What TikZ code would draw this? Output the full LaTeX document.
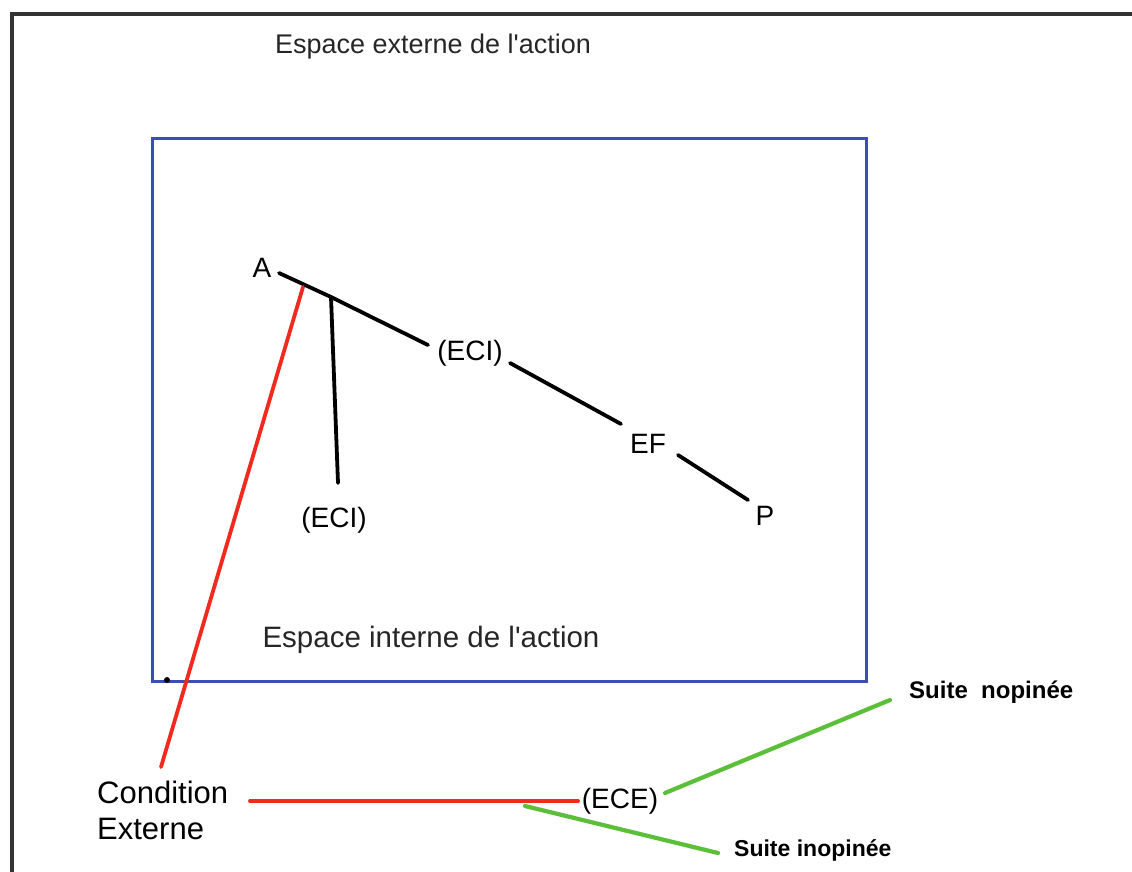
\documentclass[tikz,border=0pt]{standalone}
\usepackage{fontspec}
\setmainfont{Liberation Sans}
\definecolor{boxblue}{HTML}{3A4FB0}
\definecolor{linered}{HTML}{F02A1E}
\definecolor{linegreen}{HTML}{5CBF3A}
\begin{document}
\begin{tikzpicture}[x=1pt,y=-1pt,
  lbl/.style={font=\fontsize{28}{36}\selectfont, inner sep=1pt},
  title/.style={font=\fontsize{27}{30}\selectfont, inner sep=1pt, text=black!85},
  suite/.style={font=\bfseries\fontsize{23}{28}\selectfont, inner sep=1pt},
  blk/.style={line width=3.8pt, black, line cap=round},
  redl/.style={line width=3.8pt, linered, line cap=round},
  greenl/.style={line width=4.2pt, linegreen, line cap=round}]
\useasboundingbox (0,0) rectangle (1132,872);
% outer frame
\draw[line width=3.5pt, black!80] (12,872) -- (12,14) -- (1132,14);
% inner box
\draw[line width=3pt, boxblue] (152,139) rectangle (866,681);
\fill[black] (167,680) circle (3);
% labels
\node[title] (ext) at (433,47) {Espace externe de l\textquotesingle action};
\node[title, font=\fontsize{29.5}{32}\selectfont] (int) at (431,640) {Espace interne de l\textquotesingle action};
\node[lbl] (A) at (262,268) {A};
\node[lbl] (eci1) at (470,353) {(ECI)};
\node[lbl] (eci2) at (334,520) {(ECI)};
\node[lbl] (EF) at (648,444) {EF};
\node[lbl] (P) at (765,516) {P};
\node[lbl, font=\fontsize{31}{36}\selectfont, align=left, anchor=west] (cond) at (96,810) {Condition\\Externe};
\node[lbl] (ece) at (620,801) {(ECE)};
\node[suite, font=\bfseries\fontsize{24}{28}\selectfont, anchor=west] (s1) at (908,692) {Suite\ \ nopinée};
\node[suite, anchor=west] (s2) at (733,850) {Suite inopinée};
% connector points
\coordinate (a1) at (279,273);
\coordinate (j) at (331,297);
\coordinate (e1) at (428,345);
\coordinate (e2) at (510,363);
\coordinate (f1) at (621,424);
\coordinate (f2) at (678,455);
\coordinate (p1) at (748,500);
\coordinate (v2) at (338,483);
\coordinate (r1) at (303,287);
\coordinate (r2) at (161,767);
\coordinate (h1) at (250,801);
\coordinate (h2) at (578,801);
\coordinate (g1) at (665,793);
\coordinate (g2) at (890,700);
\coordinate (g3) at (525,806);
\coordinate (g4) at (718,853);
% black lines
\draw[blk] (a1) -- (j) -- (e1);
\draw[blk] (e2) -- (f1);
\draw[blk] (f2) -- (p1);
\draw[blk] (j) -- (v2);
% red lines
\draw[redl] (r1) -- (r2);
\draw[redl] (h1) -- (h2);
% green lines
\draw[greenl] (g1) -- (g2);
\draw[greenl] (g3) -- (g4);
\end{tikzpicture}
\end{document}
